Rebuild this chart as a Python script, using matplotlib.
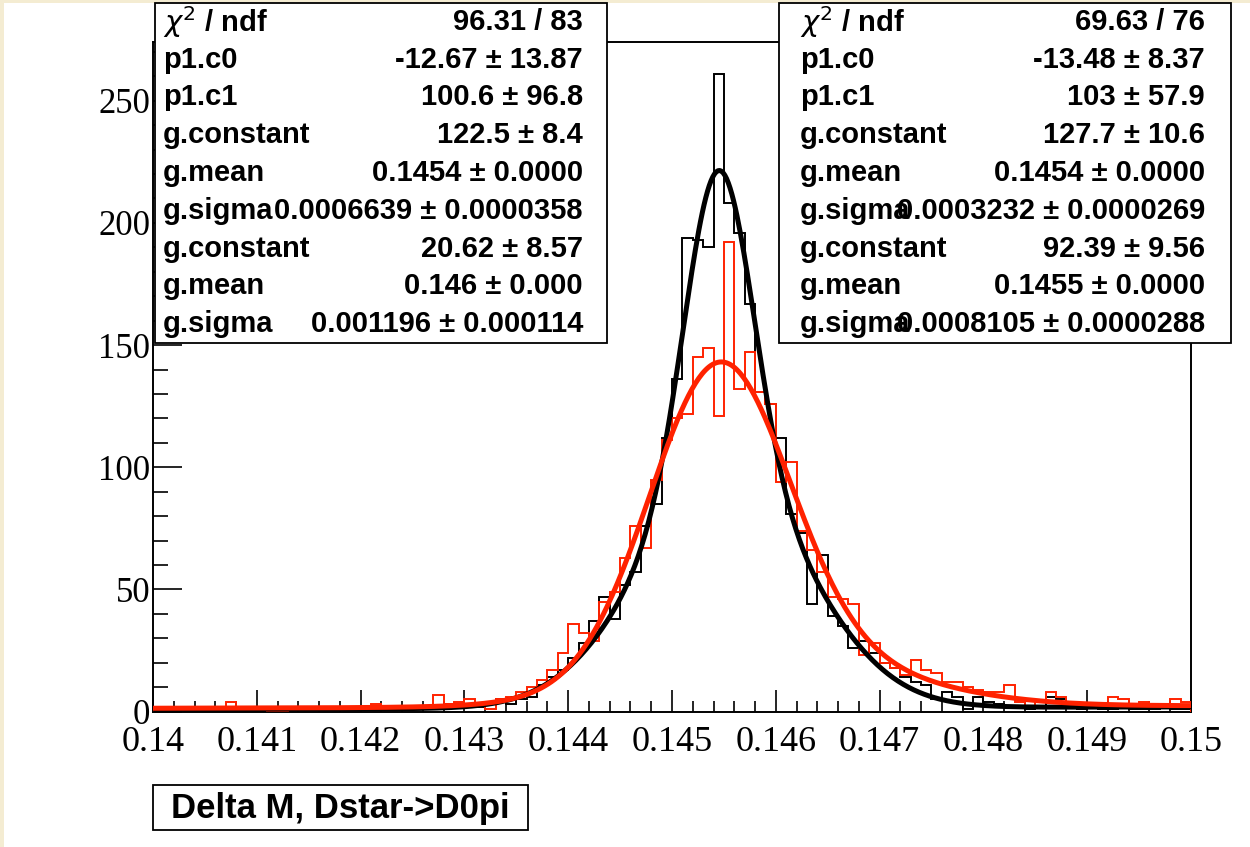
import numpy as np
import matplotlib
matplotlib.use("Agg")
import matplotlib.pyplot as plt
from matplotlib.patches import Rectangle

# histogram contents, 100 bins from 0.140 to 0.150
xmin, xmax = 0.140, 0.150
nbins = 100

black_counts = [0, 0, 1, 0, 0, 0, 0, 0, 0, 0,
                0, 0, 1, 2, 1, 1, 1, 1, 1, 1,
                1, 1, 1, 1, 2, 1, 1, 2, 3, 3,
                3, 2, 3, 5, 3, 5, 6, 11, 14, 17,
                22, 28, 37, 47, 38, 52, 57, 76, 85, 112,
                136, 194, 193, 190, 261, 208, 196, 167, 131, 126,
                112, 81, 73, 44, 64, 39, 35, 26, 29, 24,
                20, 18, 14, 12, 11, 5, 8, 6, 1, 6,
                4, 3, 2, 2, 1, 2, 6, 5, 2, 1,
                2, 1, 1, 2, 1, 1, 1, 2, 1, 1]

red_counts = [1, 1, 1, 1, 1, 1, 1, 4, 1, 1,
              1, 0, 0, 1, 2, 2, 2, 1, 2, 1,
              1, 3, 2, 1, 1, 1, 1, 7, 3, 4,
              5, 3, 1, 5, 6, 8, 10, 13, 17, 24,
              36, 32, 29, 45, 49, 63, 76, 67, 95, 111,
              120, 122, 145, 149, 121, 192, 132, 147, 131, 126,
              94, 102, 74, 66, 57, 47, 46, 44, 23, 28,
              20, 18, 15, 21, 17, 16, 12, 12, 10, 9,
              8, 8, 11, 4, 2, 4, 8, 6, 2, 3,
              3, 3, 6, 5, 3, 4, 2, 3, 5, 4]

# fit results: pol1 + gaus + gaus  (c0, c1, [(const, mean, sigma), ...])
black_fit = (-13.48, 103.0, [(127.7, 0.14545, 0.0003232), (92.39, 0.1455, 0.0008105)])
red_fit = (-12.67, 100.6, [(122.5, 0.14545, 0.0006639), (20.62, 0.146, 0.001196)])

# stat box texts
stat_labels = [r"$\chi^{2}$ / ndf", "p1.c0", "p1.c1", "g.constant", "g.mean",
               "g.sigma", "g.constant", "g.mean", "g.sigma"]
red_stat_values = ["96.31 / 83", "-12.67 \u00b1 13.87", "100.6 \u00b1 96.8",
                   "122.5 \u00b1 8.4", "0.1454 \u00b1 0.0000",
                   "0.0006639 \u00b1 0.0000358", "20.62 \u00b1 8.57",
                   "0.146 \u00b1 0.000", "0.001196 \u00b1 0.000114"]
black_stat_values = ["69.63 / 76", "-13.48 \u00b1 8.37", "103 \u00b1 57.9",
                     "127.7 \u00b1 10.6", "0.1454 \u00b1 0.0000",
                     "0.0003232 \u00b1 0.0000269", "92.39 \u00b1 9.56",
                     "0.1455 \u00b1 0.0000", "0.0008105 \u00b1 0.0000288"]

title = "Delta M, Dstar->D0pi"

xticks = [0.140, 0.141, 0.142, 0.143, 0.144, 0.145, 0.146, 0.147, 0.148, 0.149, 0.150]
xticklabels = ["0.14", "0.141", "0.142", "0.143", "0.144", "0.145", "0.146",
               "0.147", "0.148", "0.149", "0.15"]
yticks = [0, 50, 100, 150, 200, 250]


def fit_curve(x, fit):
    c0, c1, gaussians = fit
    y = c0 + c1 * x
    for const, mean, sigma in gaussians:
        y = y + const * np.exp(-0.5 * ((x - mean) / sigma) ** 2)
    return y


W, H = 1250, 847
RED = '#ff2200'


def fx(px):
    return px / W


def fy(py):
    return 1.0 - py / H


fig = plt.figure(figsize=(W / 100, H / 100), dpi=100)
fig.patch.set_facecolor('white')

# cream border of the canvas
fig.add_artist(Rectangle((0, 0), fx(4), 1, transform=fig.transFigure,
                         facecolor='#f4ecd2', edgecolor='none', zorder=0))
fig.add_artist(Rectangle((0, fy(3)), 1, 3 / H, transform=fig.transFigure,
                         facecolor='#f4ecd2', edgecolor='none', zorder=0))

ax = fig.add_axes([fx(153), fy(711.7), fx(1191) - fx(153), fy(42) - fy(711.7)])

edges = np.linspace(xmin, xmax, nbins + 1)
ax.stairs(black_counts, edges, color='black', lw=1.4, zorder=2)
ax.stairs(red_counts, edges, color=RED, lw=1.4, zorder=3)

xf = np.linspace(xmin, xmax, 600)
ax.plot(xf, fit_curve(xf, black_fit), color='black', lw=3.6, zorder=4)
ax.plot(xf, fit_curve(xf, red_fit), color=RED, lw=3.6, zorder=5)

ax.set_xlim(xmin, xmax)
ax.set_ylim(0, 274)

serif = 'Liberation Serif'
ax.set_xticks(xticks)
ax.set_xticklabels(xticklabels, family=serif, fontsize=26)
ax.set_xticks(np.arange(0.1402, 0.15, 0.0002), minor=True)
ax.set_yticks(yticks)
ax.set_yticklabels([str(v) for v in yticks], family=serif, fontsize=25)
ax.set_yticks(np.arange(0, 275, 10), minor=True)

ax.tick_params(axis='x', which='major', direction='in', length=15.5, width=1.2, pad=10)
ax.tick_params(axis='x', which='minor', direction='in', length=8, width=1.2)
ax.tick_params(axis='y', which='major', direction='in', length=21, width=1.2, pad=2)
ax.tick_params(axis='y', which='minor', direction='in', length=10.5, width=1.2)
for sp in ax.spines.values():
    sp.set_linewidth(1.4)


def stat_box(x0, x1, values, lab_off, val_off):
    top, bottom = 3, 343
    fig.add_artist(Rectangle((fx(x0), fy(bottom)), fx(x1) - fx(x0), (bottom - top) / H,
                             transform=fig.transFigure, facecolor='white',
                             edgecolor='black', lw=1.3, zorder=10))
    row = (bottom - top) / len(values)
    for k, (lab, val) in enumerate(zip(stat_labels, values)):
        yc = top + row * (k + 0.5)
        fig.text(fx(x0 + lab_off), fy(yc), lab, ha='left', va='center', fontsize=21,
                 family='Liberation Sans', weight='bold', zorder=11)
        fig.text(fx(x1 - val_off), fy(yc), val, ha='right', va='center', fontsize=21,
                 family='Liberation Sans', weight='bold', zorder=11)


stat_box(155, 607, red_stat_values, 8, 24)
stat_box(779, 1231, black_stat_values, 21, 26)

# title box
fig.add_artist(Rectangle((fx(153), fy(830)), fx(528) - fx(153), 45 / H,
                         transform=fig.transFigure, facecolor='white',
                         edgecolor='black', lw=1.3, zorder=10))
fig.text(fx(340.5), fy(808), title, ha='center', va='center', fontsize=25,
         family='Liberation Sans', weight='bold', zorder=11)

fig.savefig('out.png', dpi=100)
